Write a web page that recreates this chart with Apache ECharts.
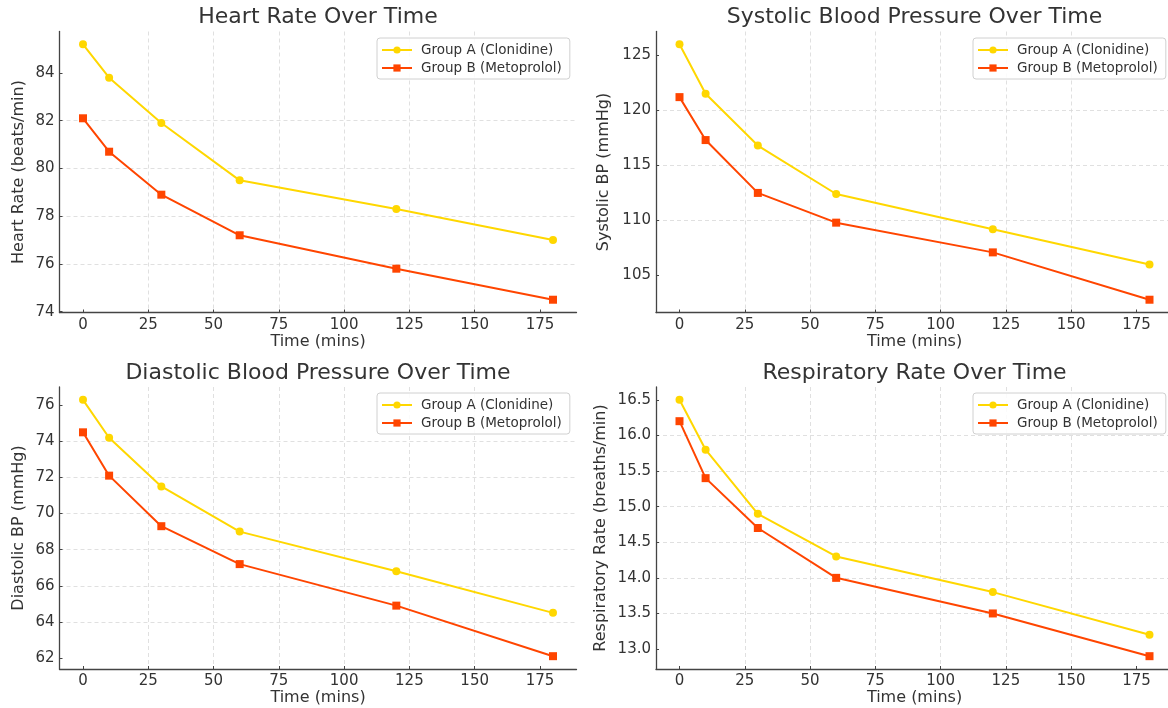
<!DOCTYPE html>
<html>
<head>
<meta charset="utf-8">
<script src="https://cdn.jsdelivr.net/npm/echarts@6/dist/echarts.min.js"></script>
<style>
html,body{margin:0;padding:0;background:#fff;overflow:hidden;width:1168px;height:708px;}
#chart{width:1180px;height:708px;}
</style>
</head>
<body>
<div id="chart"></div>
<script>
// ---- data ----
const times = [0, 10, 30, 60, 120, 180];
const xTicks = [0, 25, 50, 75, 100, 125, 150, 175];
const seriesNames = ['Group A (Clonidine)', 'Group B (Metoprolol)'];

const hrA = [85.2, 83.8, 81.9, 79.5, 78.3, 77.0];
const hrB = [82.1, 80.7, 78.9, 77.2, 75.8, 74.5];
const sbpA = [126.0, 121.5, 116.8, 112.4, 109.2, 106.0];
const sbpB = [121.2, 117.3, 112.5, 109.8, 107.1, 102.8];
const dbpA = [76.3, 74.2, 71.5, 69.0, 66.8, 64.5];
const dbpB = [74.5, 72.1, 69.3, 67.2, 64.9, 62.1];
const rrA = [16.5, 15.8, 14.9, 14.3, 13.8, 13.2];
const rrB = [16.2, 15.4, 14.7, 14.0, 13.5, 12.9];

const titles = ['Heart Rate Over Time', 'Systolic Blood Pressure Over Time',
                'Diastolic Blood Pressure Over Time', 'Respiratory Rate Over Time'];
const yNames = ['Heart Rate (beats/min)', 'Systolic BP (mmHg)', 'Diastolic BP (mmHg)',
                'Respiratory Rate (breaths/min)'];
const yTicks = [
  [74, 76, 78, 80, 82, 84],
  [105, 110, 115, 120, 125],
  [62, 64, 66, 68, 70, 72, 74, 76],
  [13.0, 13.5, 14.0, 14.5, 15.0, 15.5, 16.0, 16.5]
];
const yIntervals = [2, 5, 2, 0.5];
const yDecimals = [0, 0, 0, 1];
const panels = [[hrA, hrB], [sbpA, sbpB], [dbpA, dbpB], [rrA, rrB]];

// ---- layout ----
const FONT = 'DejaVu Sans';
const colA = '#FFD700';
const colB = '#FF4500';
const PW = 517;
const gridPos = [
  {left: 59.5, top: 31.5, height: 281},
  {left: 656, top: 31.5, height: 281},
  {left: 59.5, top: 387, height: 282},
  {left: 656, top: 387, height: 282}
];
const yNameGaps = [33, 44, 33, 47];
const legendPos = [
  {left: 377, top: 38}, {left: 973, top: 38},
  {left: 377, top: 393}, {left: 973, top: 393}
];

function extentPad(a, b, frac) {
  const all = a.concat(b);
  const mn = Math.min.apply(null, all), mx = Math.max.apply(null, all);
  const pad = (mx - mn) * frac;
  return [mn - pad, mx + pad];
}

const xExt = [times[0] - (times[times.length-1] - times[0]) * 0.05,
              times[times.length-1] + (times[times.length-1] - times[0]) * 0.05];

const option = {
  backgroundColor: '#fff',
  animation: false,
  title: [], grid: [], xAxis: [], yAxis: [], legend: [], series: []
};

const axisLineStyle = {color: '#444', width: 1.3};
const gridLineStyle = {color: '#d8d8d8', type: [4, 3], width: 0.8};

for (let i = 0; i < 4; i++) {
  const g = gridPos[i];
  option.grid.push({left: g.left, top: g.top, width: PW, height: g.height, containLabel: false});
  option.title.push({
    text: titles[i], left: g.left + PW / 2, top: g.top - 25,
    textAlign: 'center', padding: 0,
    textStyle: {fontFamily: FONT, fontSize: 22, fontWeight: 'normal', color: '#333'}
  });
  option.xAxis.push({
    type: 'value', gridIndex: i, min: xExt[0], max: xExt[1],
    minInterval: 25, maxInterval: 25,
    name: 'Time (mins)', nameLocation: 'middle', nameGap: 21,
    nameTextStyle: {fontFamily: FONT, fontSize: 16, color: '#333'},
    axisLine: {show: true, onZero: false, lineStyle: axisLineStyle},
    axisTick: {show: true, inside: true, length: 3, lineStyle: {color: '#444'}, customValues: xTicks},
    axisLabel: {fontFamily: FONT, fontSize: 15, color: '#333', margin: 5, customValues: xTicks},
    splitLine: {show: true, lineStyle: gridLineStyle, showMinLine: false, showMaxLine: false}
  });
  const ext = extentPad(panels[i][0], panels[i][1], 0.05);
  const dec = yDecimals[i];
  option.yAxis.push({
    type: 'value', gridIndex: i, min: ext[0], max: ext[1],
    minInterval: yIntervals[i], maxInterval: yIntervals[i],
    name: yNames[i], nameLocation: 'middle', nameGap: yNameGaps[i], nameRotate: 90,
    nameTextStyle: {fontFamily: FONT, fontSize: 16, color: '#333'},
    axisLine: {show: true, onZero: false, lineStyle: axisLineStyle},
    axisTick: {show: true, inside: true, length: 3, lineStyle: {color: '#444'}, customValues: yTicks[i]},
    axisLabel: {fontFamily: FONT, fontSize: 15, color: '#333', margin: 5, customValues: yTicks[i],
                formatter: v => Number(v).toFixed(dec)},
    splitLine: {show: true, lineStyle: gridLineStyle, showMinLine: false, showMaxLine: false}
  });
  option.legend.push({
    data: seriesNames, orient: 'vertical',
    left: legendPos[i].left, top: legendPos[i].top,
    itemWidth: 30, itemHeight: 9, itemGap: 4,
    padding: [5, 8, 4, 4],
    backgroundColor: 'rgba(255,255,255,0.85)',
    borderColor: '#d0d0d0', borderWidth: 1, borderRadius: 3,
    textStyle: {fontFamily: FONT, fontSize: 13.5, color: '#333', padding: [0, 0, 0, 4]}
  });
  option.series.push({
    name: seriesNames[0], type: 'line', xAxisIndex: i, yAxisIndex: i,
    data: times.map((t, k) => [t, panels[i][0][k]]),
    symbol: 'circle', symbolSize: 8,
    lineStyle: {color: colA, width: 2}, itemStyle: {color: colA}
  });
  option.series.push({
    name: seriesNames[1], type: 'line', xAxisIndex: i, yAxisIndex: i,
    data: times.map((t, k) => [t, panels[i][1][k]]),
    symbol: 'rect', symbolSize: 8,
    lineStyle: {color: colB, width: 2}, itemStyle: {color: colB}
  });
}

const chart = echarts.init(document.getElementById('chart'), null, {renderer: 'canvas'});
chart.setOption(option);
</script>
</body>
</html>
